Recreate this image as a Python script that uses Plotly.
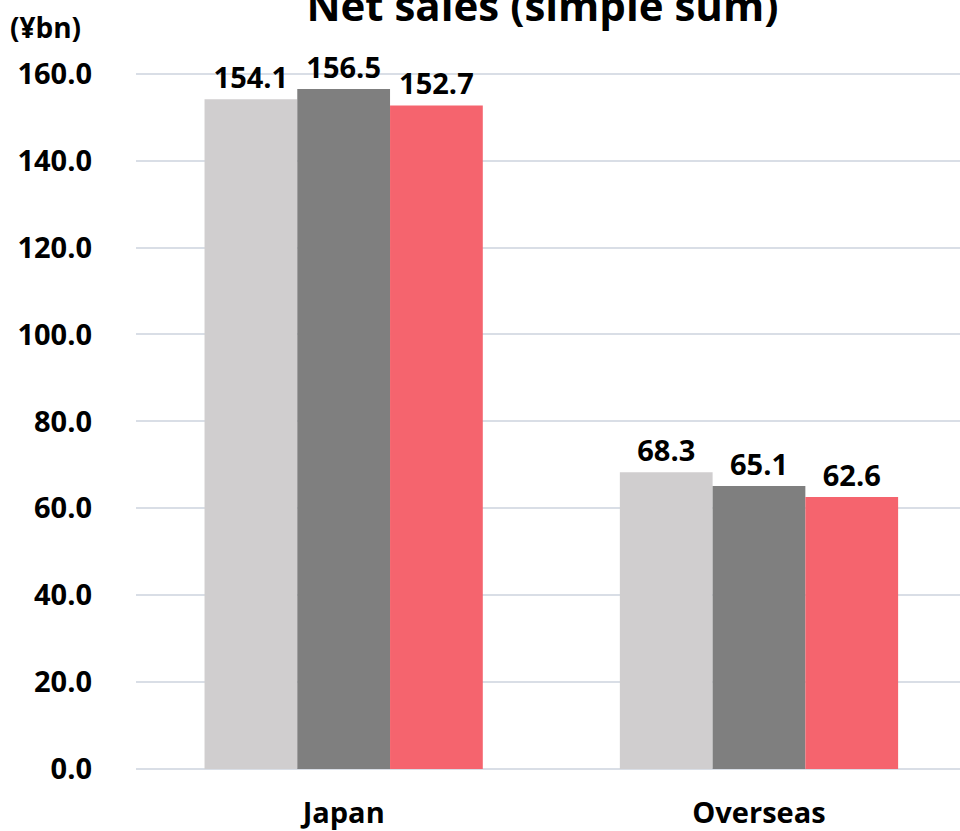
import plotly.graph_objects as go

categories = ["Japan", "Overseas"]
series_names = ["Year 1", "Year 2", "Year 3"]
series_values = [
    [154.1, 68.3],
    [156.5, 65.1],
    [152.7, 62.6],
]
series_colors = ["#D0CECF", "#7F7F7F", "#F5646E"]
y_ticks = [0, 20, 40, 60, 80, 100, 120, 140, 160]
y_ticklabels = [f"{v:.1f}" for v in y_ticks]

FONT = "Open Sans, Noto Sans, sans-serif"

fig = go.Figure()
for name, vals, col in zip(series_names, series_values, series_colors):
    fig.add_trace(go.Bar(
        x=categories, y=vals, name=name, marker=dict(color=col, line=dict(width=0)),
        text=[f"{v:.1f}" for v in vals], textposition="outside",
        textfont=dict(family=FONT, size=29, color="#000000", weight="bold"),
        cliponaxis=False,
    ))

fig.update_layout(
    width=960, height=831,
    margin=dict(l=136, r=0, t=52, b=62),
    paper_bgcolor="white", plot_bgcolor="white",
    barmode="group", bargap=0.33, bargroupgap=0,
    showlegend=False,
    uniformtext=dict(mode=False),
    title=dict(text="Net sales (simple sum)", x=0.565, xanchor="center",
               y=0.975, yanchor="bottom", yref="container",
               font=dict(family=FONT, size=42, color="#000000", weight="bold")),
    font=dict(family=FONT, color="#000000"),
    xaxis=dict(range=[-0.5, 1.484], showgrid=False, showline=False, zeroline=False,
               tickfont=dict(family=FONT, size=29, color="#000000", weight="bold"),
               ticks="outside", ticklen=18, tickcolor="rgba(0,0,0,0)"),
    yaxis=dict(range=[0, 165], tickvals=y_ticks, ticktext=y_ticklabels,
               showgrid=True, gridcolor="#D9DEE6", gridwidth=1.5,
               zeroline=True, zerolinecolor="#D9DEE6", zerolinewidth=2,
               tickfont=dict(family=FONT, size=29, color="#000000", weight="bold"),
               ticklabelstandoff=43),
    annotations=[dict(text="(¥bn)", xref="paper", yref="paper", x=-0.155, y=1.035,
                      xanchor="left", yanchor="middle", showarrow=False,
                      font=dict(family=FONT, size=28, color="#000000", weight="bold"))],
)

fig.write_html("out.html")
